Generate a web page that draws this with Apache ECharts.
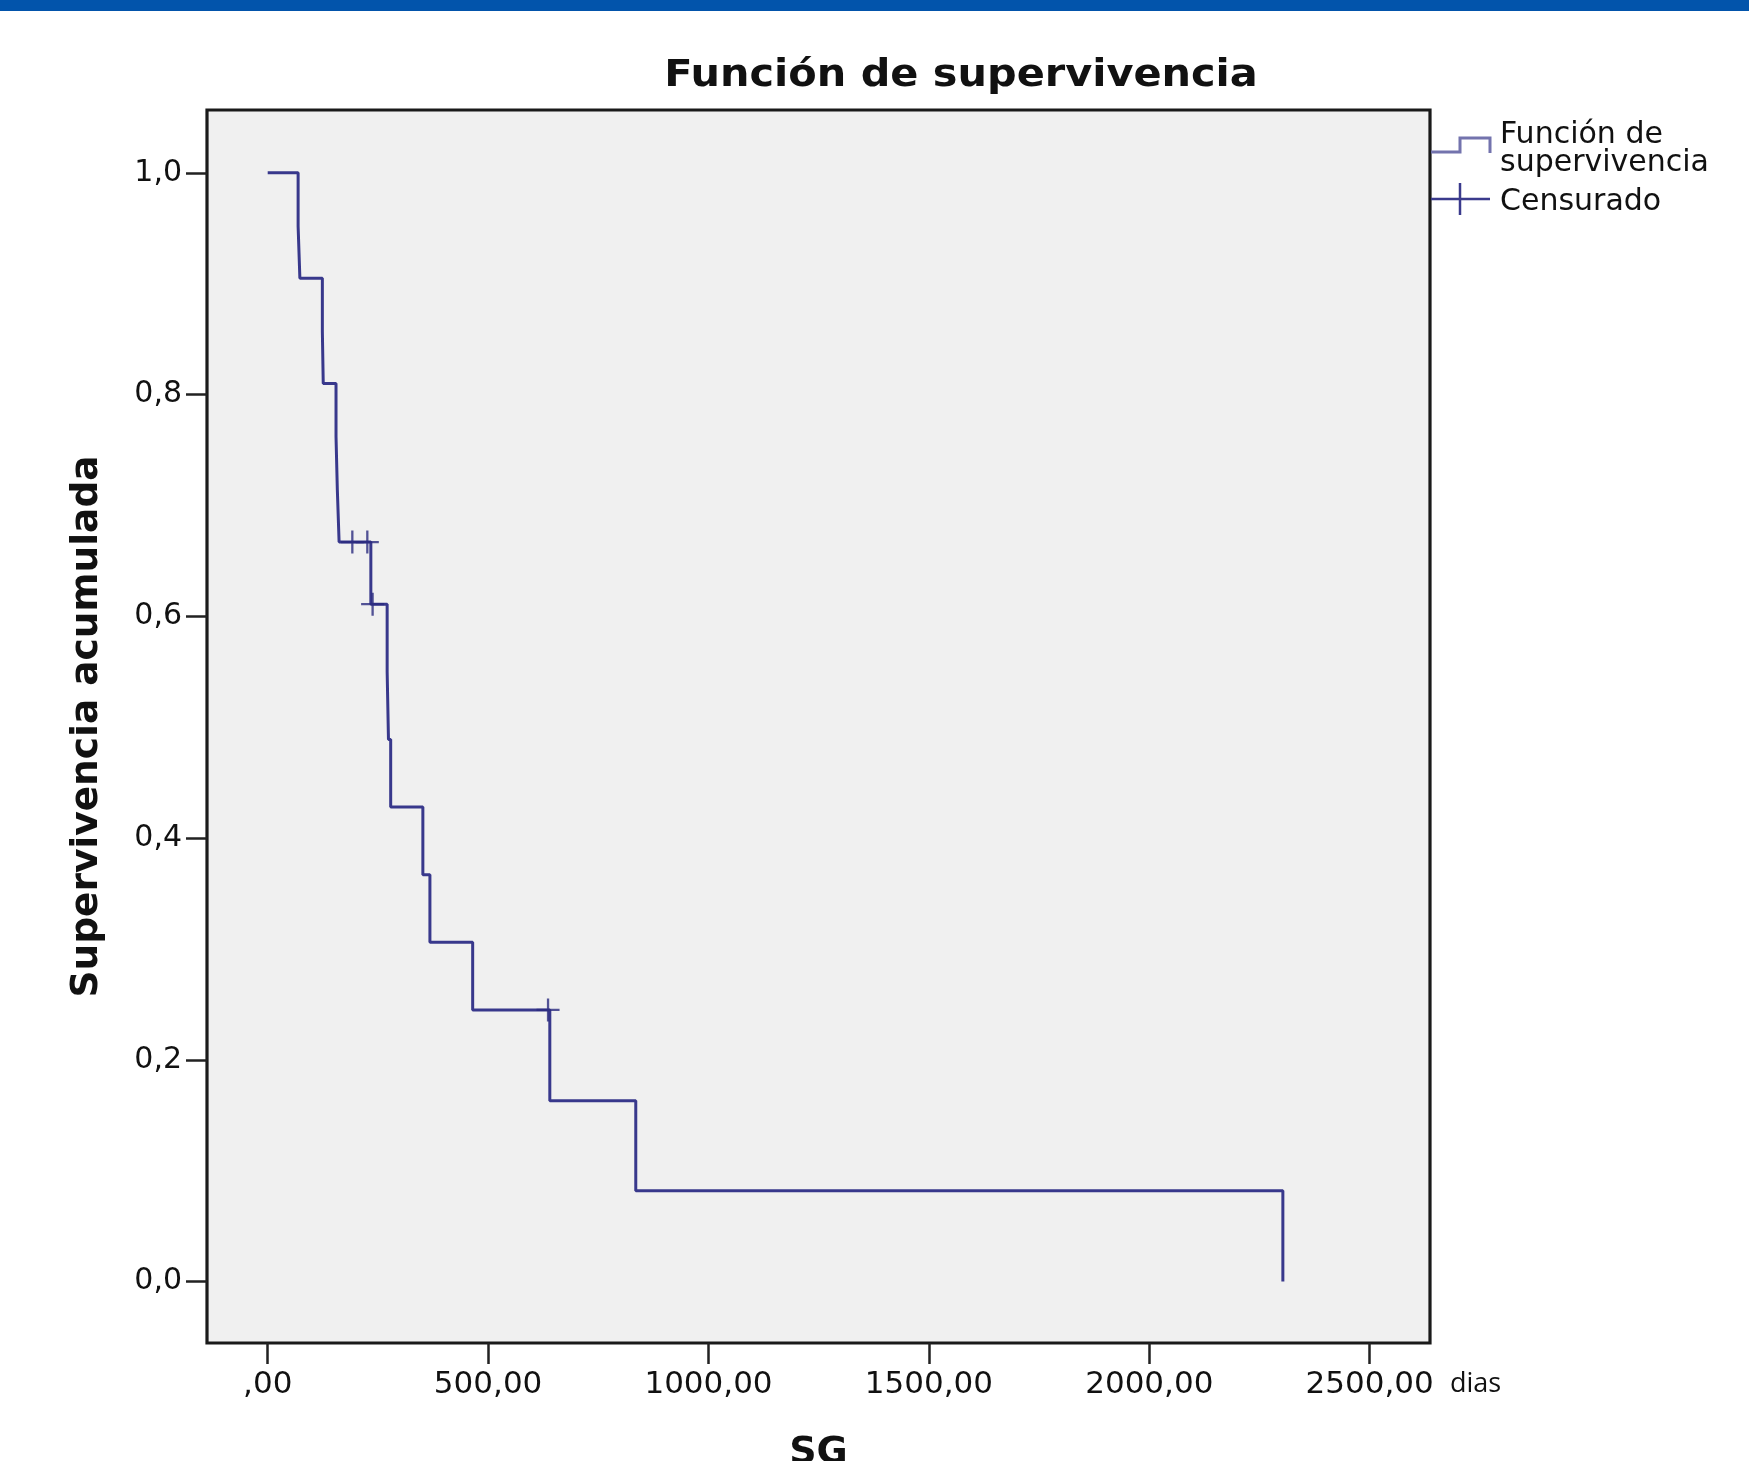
<!DOCTYPE html>
<html>
<head>
<meta charset="utf-8">
<script src="https://cdn.jsdelivr.net/npm/echarts@6/dist/echarts.min.js"></script>
<style>
html,body{margin:0;padding:0;background:#fff;}
#chart{width:1749px;height:1461px;}
</style>
</head>
<body>
<div id="chart"></div>
<script>
// Kaplan-Meier step points (time in days, cumulative survival)
const eventTimes = [0, 69, 73, 124, 126, 155, 158, 162, 234, 271, 274, 279, 352, 368, 465, 640, 835, 2303];
const survival   = [1.0, 0.952, 0.905, 0.857, 0.810, 0.762, 0.714, 0.667, 0.611, 0.550, 0.489, 0.428, 0.367, 0.306, 0.245, 0.163, 0.082, 0.0];
// Censored observations
const censorTimes = [192, 226, 238, 636];
const censorSurv  = [0.667, 0.667, 0.611, 0.245];
// Axis ticks and labels
const xTicks = [0, 500, 1000, 1500, 2000, 2500];
const xTickLabels = [',00', '500,00', '1000,00', '1500,00', '2000,00', '2500,00'];
const yTicks = [0, 0.2, 0.4, 0.6, 0.8, 1.0];
const yTickLabels = ['0,0', '0,2', '0,4', '0,6', '0,8', '1,0'];

const chart = echarts.init(document.getElementById('chart'), null, {renderer: 'canvas'});

const lineData = eventTimes.map((t, i) => [t, survival[i]]);
const censorData = censorTimes.map((t, i) => [t, censorSurv[i]]);
const plusPath = 'path://M9,0 L11,0 L11,9 L20,9 L20,11 L11,11 L11,20 L9,20 L9,11 L0,11 L0,9 L9,9 Z';

function labelFor(ticks, labels) {
  return function (v) {
    for (let i = 0; i < ticks.length; i++) {
      if (Math.abs(ticks[i] - v) < 1e-6) return labels[i];
    }
    return '';
  };
}

const option = {
  backgroundColor: '#ffffff',
  animation: false,
  grid: {
    left: 207, right: 319, top: 110, bottom: 118,
    show: true, backgroundColor: '#f0f0f0', borderColor: '#1a1a1a', borderWidth: 3.2,
    containLabel: false, outerBoundsMode: 'none'
  },
  xAxis: {
    type: 'value', min: -137.7, max: 2636.8,
    name: 'SG', nameLocation: 'middle', nameGap: 91,
    nameTextStyle: {fontFamily: 'DejaVu Sans', fontWeight: 'bold', fontSize: 38, color: '#111'},
    axisLine: {show: false, onZero: false},
    splitLine: {show: false},
    axisTick: {show: true, customValues: xTicks, length: 21, inside: false, lineStyle: {color: '#222', width: 2.5}},
    axisLabel: {show: true, customValues: xTicks, margin: 26, formatter: labelFor(xTicks, xTickLabels),
      fontFamily: 'DejaVu Sans', fontSize: 31, color: '#111'}
  },
  yAxis: {
    type: 'value', min: -0.0554, max: 1.0567,
    name: 'Supervivencia acumulada', nameLocation: 'middle', nameGap: 101, nameRotate: 90,
    nameTextStyle: {fontFamily: 'DejaVu Sans', fontWeight: 'bold', fontSize: 37.5, color: '#111'},
    axisLine: {show: false, onZero: false},
    splitLine: {show: false},
    axisTick: {show: true, customValues: yTicks, length: 21, inside: false, lineStyle: {color: '#222', width: 2.5}},
    axisLabel: {show: true, customValues: yTicks, margin: 25, formatter: labelFor(yTicks, yTickLabels),
      fontFamily: 'DejaVu Sans', fontSize: 30, color: '#111', padding: [8, 0, 0, 0]}
  },
  series: [
    {
      name: 'Función de supervivencia', type: 'line', step: 'end', data: lineData,
      symbol: 'none', lineStyle: {color: '#38388c', width: 3}, z: 3
    },
    {
      name: 'Censurado', type: 'scatter', data: censorData,
      symbol: plusPath, symbolSize: 23, itemStyle: {color: '#2a2a7e'}, z: 4
    }
  ],
  graphic: [
    {type: 'rect', left: 0, top: 0, shape: {x: 0, y: 0, width: 1749, height: 11}, style: {fill: '#0254ab'}},
    {type: 'text', x: 961, y: 76, scaleX: 1.12,
      style: {text: 'Función de supervivencia', fontFamily: 'DejaVu Sans', fontWeight: 'bold', fontSize: 37,
        fill: '#111', align: 'center', verticalAlign: 'middle'}},
    {type: 'text', x: 1450, y: 1384,
      style: {text: 'dias', fontFamily: 'Open Sans', fontSize: 27, fill: '#111', align: 'left', verticalAlign: 'middle'}},
    // legend
    {type: 'polyline', shape: {points: [[1431, 152], [1460, 152], [1460, 138], [1490, 138], [1490, 153]]},
      style: {stroke: '#7373ad', lineWidth: 3, fill: null}},
    {type: 'line', shape: {x1: 1431, y1: 199, x2: 1490, y2: 199}, style: {stroke: '#3a3a8c', lineWidth: 2.5}},
    {type: 'line', shape: {x1: 1460, y1: 183, x2: 1460, y2: 215}, style: {stroke: '#3a3a8c', lineWidth: 2.5}},
    {type: 'text', x: 1500, y: 135,
      style: {text: 'Función de', fontFamily: 'DejaVu Sans', fontSize: 30, fill: '#111', align: 'left', verticalAlign: 'middle'}},
    {type: 'text', x: 1500, y: 163,
      style: {text: 'supervivencia', fontFamily: 'DejaVu Sans', fontSize: 30, fill: '#111', align: 'left', verticalAlign: 'middle'}},
    {type: 'text', x: 1500, y: 202,
      style: {text: 'Censurado', fontFamily: 'DejaVu Sans', fontSize: 30, fill: '#111', align: 'left', verticalAlign: 'middle'}}
  ]
};
chart.setOption(option);
</script>
</body>
</html>
